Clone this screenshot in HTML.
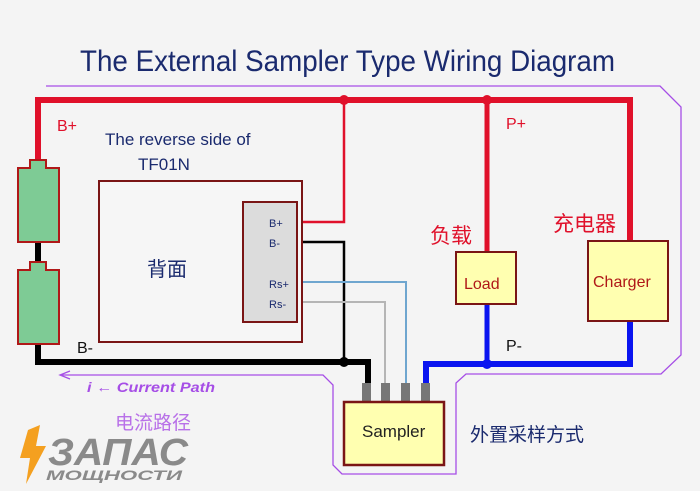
<!DOCTYPE html>
<html><head><meta charset="utf-8"><style>
body{margin:0;background:#f4f4f4}
svg{display:block}
text{font-family:"Liberation Sans","Noto Sans CJK SC",sans-serif}
</style></head><body>
<svg width="700" height="491" viewBox="0 0 700 491" xmlns="http://www.w3.org/2000/svg">
<rect width="700" height="491" fill="#f4f4f4"/>
<text x="80" y="71" font-size="30" fill="#1a2a6e" textLength="535" lengthAdjust="spacingAndGlyphs">The External Sampler Type Wiring Diagram</text>
<polyline points="46,86 660,86 681,107 681,355 661,374 466,374 456,383 456,474 342,474 333,465 333,385 323,375 62,375" fill="none" stroke="#a64ee6" stroke-width="1.3"/>
<polyline points="70,371 60,375 70,379" fill="none" stroke="#a64ee6" stroke-width="1.3"/>
<polyline points="38,162 38,100 630,100 630,241" fill="none" stroke="#e0102a" stroke-width="6"/>
<line x1="487" y1="100" x2="487" y2="252" stroke="#e0102a" stroke-width="5"/>
<polyline points="344,100 344,222 298,222" fill="none" stroke="#e0102a" stroke-width="2.5"/>
<circle cx="344" cy="100" r="5" fill="#e0102a"/><circle cx="487" cy="100" r="5" fill="#e0102a"/>
<polyline points="38,345 38,362 368,362 368,385" fill="none" stroke="#000" stroke-width="6"/>
<line x1="38" y1="242" x2="38" y2="262" stroke="#000" stroke-width="6"/>
<polyline points="298,242 344,242 344,362" fill="none" stroke="#000" stroke-width="2.5"/>
<circle cx="344" cy="362" r="5" fill="#000"/>
<polyline points="298,282 406,282 406,385" fill="none" stroke="#6fa6cf" stroke-width="2"/>
<polyline points="298,302 385,302 385,385" fill="none" stroke="#b5b5b5" stroke-width="2"/>
<polyline points="426,385 426,364 630,364 630,321" fill="none" stroke="#0a14f0" stroke-width="6"/>
<line x1="487" y1="304" x2="487" y2="364" stroke="#0a14f0" stroke-width="5"/>
<circle cx="487" cy="364" r="5" fill="#0a14f0"/>
<path d="M18,168 H30 V160 H46 V168 H59 V242 H18 Z" fill="#7ecb95" stroke="#b01818" stroke-width="2"/>
<path d="M18,270 H30 V262 H46 V270 H59 V344 H18 Z" fill="#7ecb95" stroke="#b01818" stroke-width="2"/>
<rect x="99" y="181" width="203" height="161" fill="#f6f6f6" stroke="#7a1515" stroke-width="2"/>
<rect x="243" y="202" width="54" height="120" fill="#dcdcdc" stroke="#7a1515" stroke-width="2"/>
<g font-size="11" fill="#1a2a6e"><text x="269" y="227">B+</text><text x="269" y="247">B-</text><text x="269" y="288">Rs+</text><text x="269" y="308">Rs-</text></g>
<g fill="#777"><rect x="362" y="383" width="9" height="20"/><rect x="381" y="383" width="9" height="20"/><rect x="401" y="383" width="9" height="20"/><rect x="421" y="383" width="9" height="20"/></g>
<rect x="344" y="402" width="100" height="63" fill="#ffffb0" stroke="#7a1515" stroke-width="2.5"/>
<rect x="456" y="252" width="60" height="52" fill="#ffffb0" stroke="#7a1515" stroke-width="2"/>
<rect x="588" y="241" width="80" height="80" fill="#ffffb0" stroke="#7a1515" stroke-width="2"/>
<text x="362" y="437" font-size="17" fill="#222">Sampler</text>
<text x="464" y="289" font-size="16" fill="#b01818">Load</text>
<text x="593" y="287" font-size="16" fill="#b01818">Charger</text>
<text x="57" y="131" font-size="16" fill="#e0102a">B+</text>
<text x="105" y="145" font-size="17" fill="#1a2a6e">The reverse side of</text>
<text x="138" y="170" font-size="17" fill="#1a2a6e">TF01N</text>
<text x="147" y="276" font-size="20" fill="#1a2a6e">背面</text>
<text x="77" y="353" font-size="16" fill="#111">B-</text>
<text x="506" y="129" font-size="16" fill="#e0102a">P+</text>
<text x="506" y="351" font-size="16" fill="#111">P-</text>
<text x="430" y="243" font-size="21" fill="#e0102a">负载</text>
<text x="553" y="231" font-size="21" fill="#e0102a">充电器</text>
<text x="470" y="441" font-size="19" fill="#1a2a6e">外置采样方式</text>
<text x="87" y="392" font-size="14" font-style="italic" font-weight="bold" fill="#a64ee6" font-family="Liberation Serif,serif" textLength="128" lengthAdjust="spacingAndGlyphs">i ← Current Path</text>
<text x="115" y="429" font-size="19" fill="#b870e8">电流路径</text>
<path d="M28,430 L40,425 L36,446 L46,446 L26,484 L30,458 L20,458 Z" fill="#f4a020"/>
<text x="48" y="465" font-size="38" font-weight="bold" font-style="italic" fill="#8a8a8a" textLength="140" lengthAdjust="spacingAndGlyphs">ЗАПАС</text>
<text x="46" y="480" font-size="14" font-weight="bold" font-style="italic" fill="#8a8a8a" textLength="136" lengthAdjust="spacingAndGlyphs">МОЩНОСТИ</text>
</svg>
</body></html>
